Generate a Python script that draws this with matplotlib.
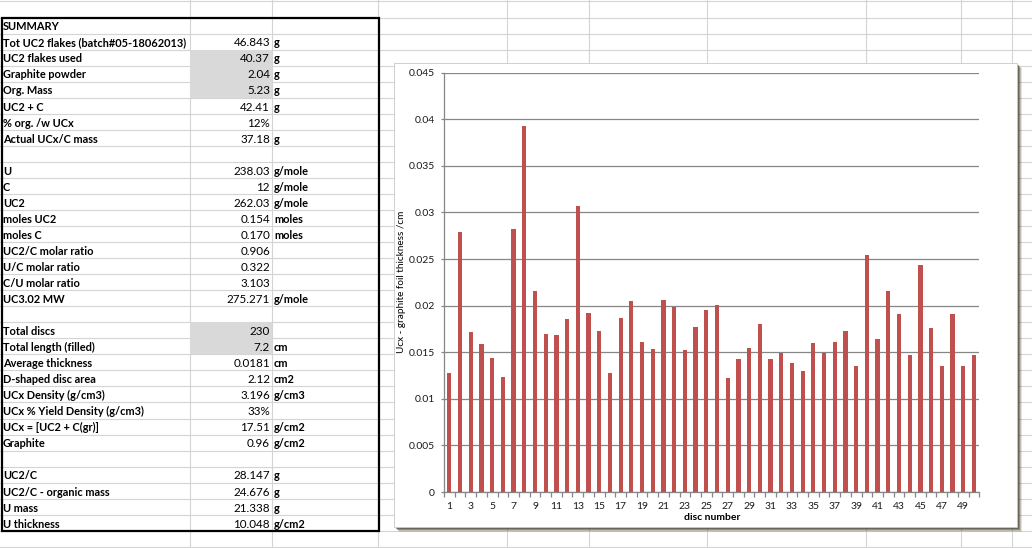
import matplotlib
matplotlib.use("Agg")
import matplotlib.pyplot as plt
from matplotlib.patches import Rectangle
import numpy as np

# ---------------- data ----------------
row_labels = ["SUMMARY", "Tot UC2 flakes (batch#05-18062013)", "UC2 flakes used", "Graphite powder",
              "Org. Mass", "UC2 + C", "% org. /w UCx", "Actual UCx/C mass", "",
              "U", "C", "UC2", "moles UC2", "moles C", "UC2/C molar ratio", "U/C molar ratio",
              "C/U molar ratio", "UC3.02 MW", "",
              "Total discs", "Total length (filled)", "Average thickness", "D-shaped disc area",
              "UCx Density (g/cm3)", "UCx % Yield Density (g/cm3)", "UCx = [UC2 + C(gr)]", "Graphite", "",
              "UC2/C", "UC2/C - organic mass", "U mass", "U thickness"]
row_values = ["", "46.843", "40.37", "2.04", "5.23", "42.41", "12%", "37.18", "",
              "238.03", "12", "262.03", "0.154", "0.170", "0.906", "0.322", "3.103", "275.271", "",
              "230", "7.2", "0.0181", "2.12", "3.196", "33%", "17.51", "0.96", "",
              "28.147", "24.676", "21.338", "10.048"]
row_units = ["", "g", "g", "g", "g", "g", "", "g", "",
             "g/mole", "g/mole", "g/mole", "moles", "moles", "", "", "", "g/mole", "",
             "", "cm", "cm", "cm2", "g/cm3", "", "g/cm2", "g/cm2", "",
             "g", "g", "g", "g/cm2"]
shaded_rows = [2, 3, 4, 19, 20]

disc_numbers = list(range(1, 51))
thickness = [0.0128, 0.0279, 0.0172, 0.0159, 0.0144, 0.0123, 0.0282, 0.0393, 0.0216, 0.0170,
             0.0168, 0.0186, 0.0307, 0.0192, 0.0173, 0.0128, 0.0187, 0.0205, 0.0161, 0.0153,
             0.0206, 0.0199, 0.0152, 0.0177, 0.0195, 0.0201, 0.0122, 0.0143, 0.0155, 0.0180,
             0.0143, 0.0149, 0.0138, 0.0130, 0.0160, 0.0149, 0.0161, 0.0173, 0.0135, 0.0254,
             0.0164, 0.0216, 0.0191, 0.0147, 0.0244, 0.0176, 0.0135, 0.0191, 0.0135, 0.0147]
y_ticks = [0, 0.005, 0.01, 0.015, 0.02, 0.025, 0.03, 0.035, 0.04, 0.045]
y_tick_labels = ["0", "0.005", "0.01", "0.015", "0.02", "0.025", "0.03", "0.035", "0.04", "0.045"]

W, H = 1032, 548
FONT = "Lato"

fig = plt.figure(figsize=(W / 100, H / 100), dpi=100)
bg = fig.add_axes([0, 0, 1, 1])
bg.set_xlim(0, W)
bg.set_ylim(H, 0)
bg.axis("off")

# spreadsheet grid
grid_c = "#d4d4d4"
row0 = 17.5
rh = 16.04
ys = [1.4] + [row0 + rh * k for k in range(0, 34)]
for y in ys:
    bg.plot([0, W], [y, y], color=grid_c, lw=0.8, zorder=0)
for x in [190, 272, 378, 507, 589, 707, 866, 961, 1012]:
    bg.plot([x, x], [0, H], color=grid_c, lw=0.8, zorder=0)

# shaded cells
for r in shaded_rows:
    bg.add_patch(Rectangle((190, row0 + rh * r), 82, rh, facecolor="#d9d9d9", edgecolor="none", zorder=0.5))

# table text
for i, (lab, val, unit) in enumerate(zip(row_labels, row_values, row_units)):
    yb = row0 + rh * (i + 1) - 3.2
    if lab:
        bg.text(3, yb, lab, ha="left", va="baseline", fontsize=7.9, family=FONT, fontweight="bold", color="#000000", zorder=2)
    if val:
        bg.text(270, yb, val, ha="right", va="baseline", fontsize=8.4, family=FONT, color="#000000", zorder=2)
    if unit:
        bg.text(274, yb, unit, ha="left", va="baseline", fontsize=7.9, family=FONT, fontweight="bold", color="#000000", zorder=2)

# thick border
bg.add_patch(Rectangle((1.5, row0), 377, rh * 32, facecolor="none", edgecolor="black", lw=1.6, zorder=3))

# chart area with shadow
cx0, cy0, cx1, cy1 = 394, 63, 1017, 527
for off, a in [(5, 0.15), (4, 0.25), (3, 0.4), (2, 0.55)]:
    bg.add_patch(Rectangle((cx0 + off, cy0 + off), cx1 - cx0, cy1 - cy0, facecolor="#4b4733", edgecolor="none", alpha=a, zorder=4))
bg.add_patch(Rectangle((cx0, cy0), cx1 - cx0, cy1 - cy0, facecolor="white", edgecolor="#c8c8c8", lw=0.6, zorder=5))

# plot axes
px0, px1, py0, py1 = 444, 979.3, 72.7, 492
ax = fig.add_axes([px0 / W, (H - py1) / H, (px1 - px0) / W, (py1 - py0) / H], zorder=6)
ax.patch.set_alpha(0)
ax.bar(disc_numbers, thickness, width=0.4, color="#c0504d", zorder=3)
ax.set_xlim(0.5, 50.5)
ax.set_ylim(0, 0.045)
ax.set_yticks(y_ticks)
ax.set_yticklabels(y_tick_labels)
ax.yaxis.grid(True, color="#868686", lw=0.9)
ax.set_axisbelow(True)
for s in ["top", "right"]:
    ax.spines[s].set_visible(False)
for s in ["left", "bottom"]:
    ax.spines[s].set_color("#868686")
    ax.spines[s].set_linewidth(0.9)
ax.set_xticks(disc_numbers[::2])
ax.set_xticklabels([str(d) for d in disc_numbers[::2]])
ax.set_xticks(np.arange(0.5, 51, 1.0), minor=True)
ax.tick_params(axis="x", which="major", length=0, pad=7.5, labelsize=7.5, labelcolor="#1a1a1a")
ax.tick_params(axis="x", which="minor", length=3.5, width=0.9, color="#868686")
ax.tick_params(axis="y", which="major", length=2.2, width=0.9, color="#868686", pad=4.5, labelsize=7.5, labelcolor="#1a1a1a")
for lbl in ax.get_xticklabels() + ax.get_yticklabels():
    lbl.set_family(FONT)

fig.text(401 / W, 1 - 282 / H, "Ucx - graphite foil thickness /cm", rotation=90, ha="center", va="center",
         fontsize=7.2, family=FONT, color="#000000", zorder=7)
fig.text(712 / W, 1 - 518 / H, "disc number", ha="center", va="center",
         fontsize=7.5, family=FONT, fontweight="bold", color="#000000", zorder=7)

fig.savefig("out.png", dpi=100)
